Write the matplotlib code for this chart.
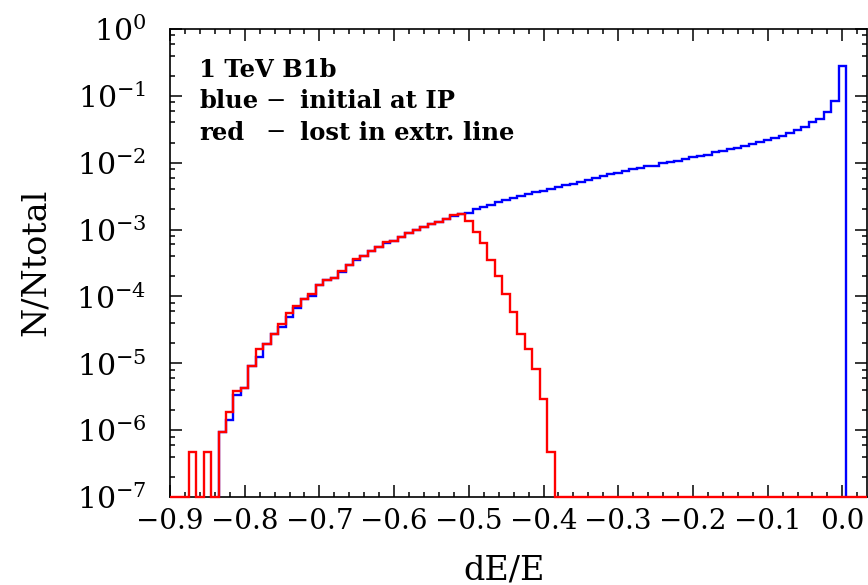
import numpy as np
import matplotlib
matplotlib.use("Agg")
import matplotlib.pyplot as plt
from matplotlib.ticker import LogLocator, MultipleLocator, FuncFormatter, LogFormatterMathtext

plt.rcParams['font.family'] = ['DejaVu Serif']
plt.rcParams['mathtext.fontset'] = 'dejavuserif'

# histogram data, bin width 0.01 (bins centred on multiples of 0.01)
bin_width = 0.01

# blue - initial at IP, bins from dE/E = -0.83 to 0.00
blue_first = -0.83
blue_vals = [
    9.4e-7, 1.4e-6, 3.3e-6, 4.3e-6, 9.1e-6, 1.26e-5, 1.97e-5, 2.7e-5, 3.5e-5, 5.0e-5,
    6.8e-5, 9.3e-5, 1.02e-4, 1.47e-4, 1.77e-4, 1.9e-4, 2.35e-4, 3.0e-4, 3.5e-4, 4.0e-4,
    4.7e-4, 5.5e-4, 6.3e-4, 6.8e-4, 7.8e-4, 8.8e-4, 9.8e-4, 1.1e-3, 1.22e-3, 1.32e-3,
    1.43e-3, 1.6e-3, 1.69e-3, 1.80e-3, 2.0e-3, 2.19e-3, 2.34e-3, 2.57e-3, 2.75e-3, 2.95e-3,
    3.17e-3, 3.4e-3, 3.6e-3, 3.8e-3, 4.0e-3, 4.27e-3, 4.57e-3, 4.78e-3, 5.07e-3, 5.49e-3,
    5.94e-3, 6.3e-3, 6.7e-3, 6.9e-3, 7.5e-3, 8.1e-3, 8.4e-3, 9.0e-3, 9.0e-3, 9.8e-3,
    1.03e-2, 1.07e-2, 1.15e-2, 1.23e-2, 1.26e-2, 1.32e-2, 1.43e-2, 1.49e-2, 1.60e-2, 1.66e-2,
    1.78e-2, 1.91e-2, 2.05e-2, 2.2e-2, 2.31e-2, 2.53e-2, 2.77e-2, 3.04e-2, 3.45e-2, 4.0e-2,
    4.45e-2, 5.7e-2, 8.4e-2, 0.276,
]

# red - lost in extraction line, bins from dE/E = -0.87 to -0.39
red_first = -0.87
red_vals = [
    4.7e-7, 0, 4.7e-7, 0, 9.4e-7, 1.9e-6, 3.9e-6, 4.3e-6, 9.1e-6, 1.66e-5,
    1.97e-5, 2.7e-5, 3.9e-5, 5.7e-5, 7.3e-5, 9.3e-5, 1.07e-4, 1.47e-4, 1.77e-4, 1.88e-4,
    2.4e-4, 3.0e-4, 3.6e-4, 4.0e-4, 4.8e-4, 5.5e-4, 6.5e-4, 6.8e-4, 7.8e-4, 8.8e-4,
    9.9e-4, 1.1e-3, 1.23e-3, 1.32e-3, 1.43e-3, 1.64e-3, 1.69e-3, 1.35e-3, 9.3e-4, 6.4e-4,
    3.5e-4, 2.05e-4, 1.08e-4, 5.9e-5, 2.7e-5, 1.63e-5, 8.1e-6, 2.9e-6, 4.7e-7,
]

xmin, xmax = -0.9, 0.033
ymin, ymax = 1e-7, 1.0


def full_hist(first, vals):
    # put the bins on the common grid, empty bins sit on the lower axis
    n = int(round((xmax - xmin) / bin_width)) + 2
    centers = np.round(xmin + bin_width * np.arange(n), 2)
    out = np.zeros(n)
    i0 = int(round((first - xmin) / bin_width))
    out[i0:i0 + len(vals)] = vals
    edges = np.concatenate([centers - bin_width / 2, [centers[-1] + bin_width / 2]])
    edges = np.clip(edges, xmin, xmax)
    return edges, np.maximum(out, ymin)


fig = plt.figure(figsize=(8.68, 5.85), dpi=100)
ax = fig.add_axes([170 / 868, 1 - 497 / 585, 697 / 868, 468 / 585])

# blue only over its own bins, falling to the axis at both ends
blue_edges = blue_first - bin_width / 2 + bin_width * np.arange(len(blue_vals) + 1)
ax.stairs(blue_vals, blue_edges, baseline=ymin, color='#0000ff', lw=1.7, clip_on=False, zorder=3)
e, v = full_hist(red_first, red_vals)
ax.stairs(v, e, baseline=None, color='#ff0000', lw=1.7, clip_on=False, zorder=4)

ax.set_yscale('log')
ax.set_xlim(xmin, xmax)
ax.set_ylim(ymin, ymax)

ax.xaxis.set_major_locator(MultipleLocator(0.1))
ax.xaxis.set_minor_locator(MultipleLocator(0.02))
ax.xaxis.set_major_formatter(FuncFormatter(lambda x, p: f"{x:.1f}".replace('-', '\u2212') if abs(x) > 1e-9 else "0.0"))
ax.yaxis.set_major_locator(LogLocator(base=10, numticks=20))
ax.yaxis.set_minor_locator(LogLocator(base=10, subs=(2, 4, 6, 8), numticks=20))
ax.yaxis.set_major_formatter(LogFormatterMathtext())

ax.tick_params(which='both', direction='in', top=True, right=True, width=1.1, colors='black')
ax.tick_params(which='major', length=8.5)
ax.tick_params(which='minor', length=3.6)
ax.tick_params(axis='x', pad=8, labelsize=20)
ax.tick_params(axis='y', pad=17, labelsize=21.5)
for s in ax.spines.values():
    s.set_linewidth(1.2)

ax.set_xlabel("dE/E", fontsize=24, va='center')
ax.xaxis.set_label_coords((504 - 170) / 697, -73 / 468)
ax.set_ylabel("N/Ntotal", fontsize=24, va='center')
ax.yaxis.set_label_coords((36 - 170) / 697, (497 - 262) / 468)

# legend-like text block
rows = [("1 TeV B1b", None, None),
        ("blue", "\u2212", "initial at IP"),
        ("red", "\u2212", "lost in extr. line")]
ys = [70, 101, 133]
for (a, b, c), y in zip(rows, ys):
    yf = 1 - y / 585
    fig.text(199 / 868, yf, a, fontsize=17.5, fontweight='bold', va='center')
    if b:
        fig.text(265 / 868, yf, b, fontsize=17.5, va='center')
        fig.text(300 / 868, yf, c, fontsize=17.5, fontweight='bold', va='center')

fig.savefig("out.png", dpi=100)
